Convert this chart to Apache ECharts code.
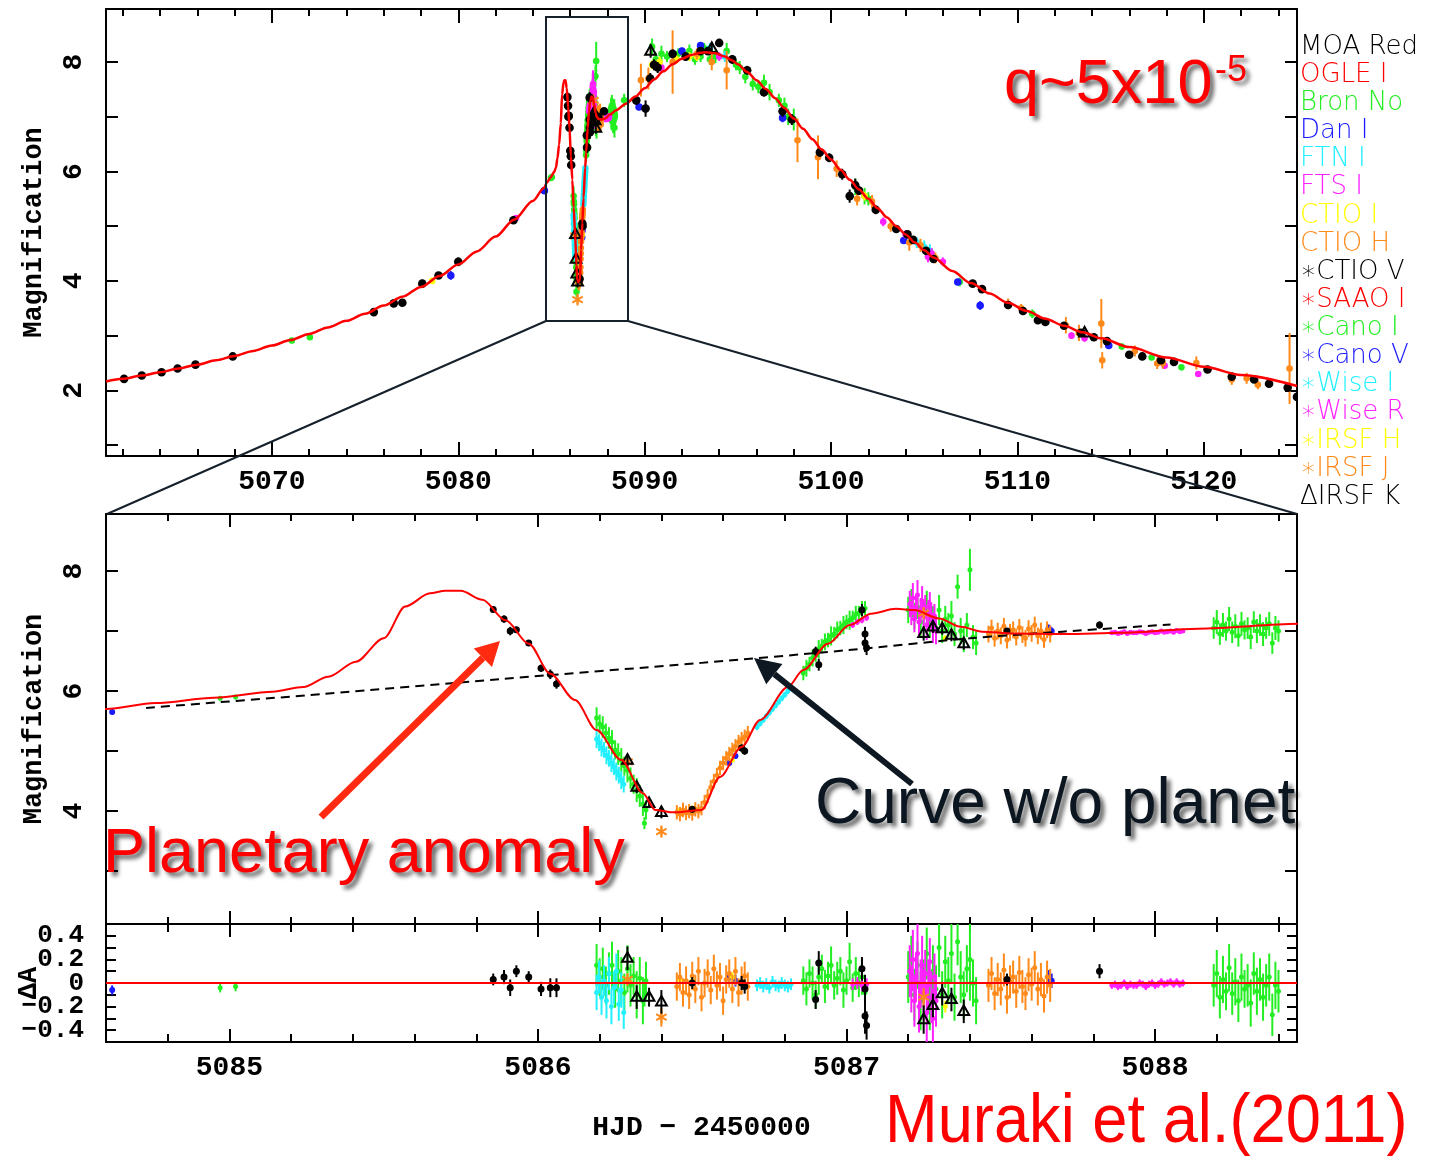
<!DOCTYPE html>
<html><head><meta charset="utf-8">
<script src="https://cdn.jsdelivr.net/npm/echarts@6/dist/echarts.min.js"></script>
<style>html,body{margin:0;padding:0;background:#fff}#c{width:1437px;height:1156px}</style>
</head><body><div id="c"></div><script>
// ---------- tick values ----------
const topXMajor = [5070,5080,5090,5100,5110,5120];
const topXMinor = [5062,5064,5066,5068,5072,5074,5076,5078,5082,5084,5086,5088,5092,5094,5096,5098,5102,5104,5106,5108,5112,5114,5116,5118,5122,5124];
const topYTicks = [1,2,3,4,5,6,7,8];
const topYLabels = [2,4,6,8];
const zoomXMajor = [5085,5086,5087,5088];
const zoomXMinor = [5084.8,5085.2,5085.4,5085.6,5085.8,5086.2,5086.4,5086.6,5086.8,5087.2,5087.4,5087.6,5087.8,5088.2,5088.4];
const zoomYTicks = [3,4,5,6,7,8];
const zoomYLabels = [4,6,8];
const resYTicks = [-0.4,-0.3,-0.2,-0.1,0,0.1,0.2,0.3,0.4];
const resYLabelsA = [-0.4,0,0.4];
const resYLabelsB = [-0.2,0.2];

// ---------- legend ----------
const legendLabels = ['MOA Red','OGLE I','Bron No','Dan I','FTN I','FTS I','CTIO I','CTIO H','∗CTIO V','∗SAAO I','∗Cano I','∗Cano V','∗Wise I','∗Wise R','∗IRSF H','∗IRSF J','ΔIRSF K'];
const legendColors = ['#000000','#ff0000','#22ee22','#1a1aff','#22f0ff','#ff22ff','#ffff00','#ff8a1a','#000000','#ff0000','#22ee22','#1a1aff','#22f0ff','#ff22ff','#ffff00','#ff8a1a','#000000'];

// ---------- model curves: [HJD-2450000, magnification] ----------
const modelCurve = [
 [5061.1,2.16],[5062,2.21],[5063,2.27],[5064,2.33],[5065,2.40],[5066,2.47],[5067,2.55],[5068,2.63],[5069,2.72],[5070,2.82],
 [5071,2.92],[5072,3.03],[5073,3.15],[5074,3.27],[5075,3.40],[5076,3.55],[5077,3.71],[5078,3.89],[5079,4.09],[5080,4.30],
 [5081,4.54],[5082,4.81],[5083,5.12],[5084,5.46],[5084.6,5.70],[5084.76,5.80],[5084.95,5.89],[5085.14,5.99],[5085.24,6.07],
 [5085.32,6.24],[5085.41,6.49],[5085.50,6.88],[5085.57,7.41],[5085.65,7.63],[5085.70,7.67],[5085.75,7.67],[5085.82,7.52],[5085.895,7.18],[5085.97,6.79],
 [5086.04,6.29],[5086.12,5.85],[5086.19,5.35],[5086.27,4.85],[5086.34,4.30],[5086.38,4.02],[5086.44,3.98],[5086.53,4.02],[5086.59,4.57],[5086.66,5.07],
 [5086.72,5.52],[5086.81,6.07],[5086.86,6.35],[5086.94,6.79],[5087.01,7.10],[5087.08,7.29],[5087.16,7.37],[5087.22,7.35],[5087.30,7.21],[5087.37,7.07],
 [5087.44,6.99],[5087.54,6.96],[5087.71,6.95],[5087.89,6.97],[5088.14,7.04],[5088.47,7.12],[5089,7.24],[5089.5,7.37],[5090,7.52],[5090.5,7.68],
 [5091,7.83],[5091.5,7.96],[5092,8.06],[5092.5,8.13],[5093,8.17],[5093.3,8.18],[5093.8,8.16],[5094.3,8.10],[5094.7,8.03],[5095,7.96],
 [5095.5,7.82],[5096,7.67],[5096.5,7.51],[5097,7.34],[5097.5,7.16],[5098,6.97],[5098.5,6.78],[5099,6.59],[5099.5,6.40],[5100,6.22],
 [5100.5,6.03],[5101,5.85],[5101.5,5.67],[5102,5.50],[5102.5,5.33],[5103,5.16],[5103.5,5.00],[5104,4.85],[5104.5,4.70],[5105,4.56],
 [5105.5,4.43],[5106.5,4.18],[5107.5,3.96],[5108.5,3.77],[5109.5,3.60],[5110.5,3.45],[5111.5,3.31],[5112.5,3.18],[5113.5,3.06],[5114.5,2.95],
 [5116,2.79],[5118,2.60],[5120,2.43],[5122,2.28],[5125,2.08]
];
const noPlanetCurve = [[5084.73,5.72],[5085.3,5.95],[5085.88,6.20],[5086.53,6.47],[5087.0,6.68],[5087.4,6.88],[5087.7,6.99],[5088.05,7.11]];

// ---------- observations: [HJD-2450000, magnification, error, residual] ----------
const moaRed = [
 [5062.07,2.21,0.05,0],[5063.02,2.27,0.05,0],[5064.08,2.33,0.05,0],[5064.94,2.40,0.05,0],[5065.90,2.47,0.04,0],[5067.90,2.62,0.04,0],
 [5075.47,3.43,0.06,0],[5076.54,3.59,0.05,0],[5077.00,3.60,0.05,0],[5078.07,3.95,0.07,0],[5078.94,4.10,0.06,0],[5080.00,4.35,0.08,0],[5082.96,5.11,0.07,0],
 [5085.855,7.36,0.05,0.03],[5085.89,7.20,0.06,0.05],[5085.91,7.00,0.07,-0.04],[5085.93,7.02,0.05,0.10],[5085.97,6.80,0.05,0.05],[5086.01,6.38,0.06,-0.05],[5086.04,6.28,0.08,-0.04],[5086.06,6.12,0.08,-0.04],
 [5086.50,4.03,0.05,0.00],[5086.66,5.05,0.06,0.00],[5086.67,5.00,0.06,-0.03],
 [5086.90,6.66,0.08,-0.14],[5086.91,6.44,0.10,0.17],[5087.05,7.35,0.10,0.12],[5087.06,6.95,0.12,-0.05],[5087.06,6.80,0.15,-0.28],[5087.065,6.72,0.12,-0.36],
 [5087.52,7.00,0.05,0.03],[5087.82,7.10,0.06,0.10],
 [5089.55,7.30,0.08,0],[5090.05,7.15,0.15,0],[5090.30,7.70,0.10,0],[5090.50,7.95,0.10,0],[5090.70,7.90,0.10,0],[5091.50,8.15,0.08,0],[5092.20,8.10,0.08,0],[5093.00,8.20,0.06,0],
 [5093.40,8.20,0.06,0],[5094.00,8.35,0.06,0],[5094.70,8.05,0.08,0],[5095.50,7.85,0.08,0],[5096.40,7.45,0.08,0],[5097.40,7.10,0.10,0],[5097.90,6.95,0.10,0],[5099.40,6.35,0.08,0],
 [5099.90,6.25,0.08,0],[5100.60,5.95,0.10,0],[5101.00,5.55,0.12,0],[5101.30,5.75,0.12,0],[5101.50,5.65,0.08,0],[5102.40,5.30,0.08,0],[5103.50,4.95,0.06,0],[5104.10,4.85,0.06,0],
 [5104.40,4.75,0.06,0],[5105.10,4.55,0.06,0],[5105.50,4.40,0.06,0],[5107.60,3.95,0.06,0],[5108.10,3.85,0.05,0],[5109.50,3.56,0.06,0],[5110.30,3.45,0.05,0],[5111.10,3.28,0.06,0],
 [5111.50,3.25,0.05,0],[5112.50,3.18,0.05,0],[5113.40,3.05,0.05,0],[5114.10,2.97,0.05,0],[5114.80,2.90,0.05,0],[5116.00,2.65,0.06,0],[5116.70,2.62,0.05,0],[5117.70,2.55,0.05,0],
 [5118.40,2.52,0.05,0],[5120.20,2.38,0.05,0],[5121.50,2.25,0.05,0],[5122.70,2.20,0.05,0],[5123.50,2.12,0.05,0],[5124.50,2.05,0.06,0],[5125.00,1.88,0.08,0]
];
const irsfK = [
 [5086.29,4.85,0.10,0.21],[5086.32,4.40,0.10,-0.12],[5086.36,4.13,0.08,-0.12],[5086.40,3.98,0.10,-0.16],
 [5087.25,6.96,0.12,-0.31],[5087.28,7.07,0.10,-0.19],[5087.31,7.04,0.10,-0.09],[5087.34,6.93,0.10,-0.14],[5087.38,6.79,0.10,-0.24],
 [5090.32,8.20,0.12,0],[5093.60,8.25,0.08,0],[5113.60,3.05,0.06,0]
];
const danI = [
 [5079.60,4.10,0.08,0],[5084.62,5.65,0.04,-0.06],[5086.62,4.80,0.05,0.05],[5086.64,4.92,0.05,0.02],[5087.655,7.05,0.06,0.05],[5087.665,7.00,0.06,0.02],
 [5089.70,7.18,0.06,0],[5092.00,8.20,0.06,0],[5093.00,8.30,0.06,0],[5097.40,6.98,0.08,0],[5103.90,4.74,0.06,0],[5106.80,3.98,0.06,0],[5108.00,3.55,0.08,0],[5114.90,2.82,0.05,0]
];
const ftnI = [
 [5086.190,5.20,0.15,-0.08],[5086.198,5.14,0.14,0.05],[5086.206,5.06,0.15,-0.12],[5086.214,5.02,0.13,0.02],[5086.222,4.93,0.15,-0.15],[5086.230,4.88,0.14,0.08],
 [5086.238,4.80,0.15,-0.20],[5086.246,4.74,0.14,-0.04],[5086.254,4.66,0.15,0.10],[5086.262,4.60,0.14,-0.18],[5086.270,4.52,0.15,-0.06],[5086.278,4.45,0.14,-0.25],
 [5086.71,5.40,0.05,-0.02],[5086.72,5.46,0.05,0.00],[5086.73,5.52,0.05,-0.03],[5086.74,5.58,0.05,-0.01],[5086.75,5.64,0.05,-0.04],[5086.76,5.70,0.05,0.01],
 [5086.77,5.76,0.05,-0.02],[5086.78,5.82,0.05,-0.03],[5086.79,5.88,0.05,0.00],[5086.80,5.94,0.05,-0.02],[5086.81,6.00,0.05,-0.03],[5086.82,6.06,0.05,-0.01],
 [5093.50,8.25,0.10,0],[5094.30,8.10,0.10,0],[5104.60,4.70,0.10,0],[5105.00,4.62,0.12,0],[5105.30,4.55,0.12,0]
];
const bronNo = [
 [5071.07,2.91,0.05,0],[5072.04,2.97,0.05,0],[5084.97,5.88,0.04,-0.04],[5085.02,5.90,0.04,-0.03],
 [5086.19,5.55,0.18,0.15],[5086.20,5.45,0.16,0.05],[5086.21,5.40,0.18,0.12],[5086.22,5.30,0.16,-0.02],[5086.23,5.22,0.18,0.08],[5086.24,5.15,0.20,0.15],
 [5086.25,5.02,0.16,-0.05],[5086.26,4.95,0.18,0.10],[5086.27,4.85,0.20,0.02],[5086.28,4.75,0.16,-0.08],[5086.29,4.68,0.20,0.12],[5086.30,4.55,0.18,-0.02],
 [5086.31,4.45,0.16,0.06],[5086.32,4.35,0.20,-0.10],[5086.33,4.25,0.18,0.04],[5086.34,4.12,0.20,-0.15],[5086.35,4.02,0.16,0.02],[5086.345,3.80,0.10,-0.10],
 [5086.86,6.30,0.12,0.02],[5086.87,6.38,0.14,-0.05],[5086.88,6.45,0.12,0.08],[5086.89,6.55,0.14,0.00],[5086.90,6.60,0.12,-0.10],[5086.91,6.70,0.15,0.05],
 [5086.92,6.75,0.12,0.12],[5086.93,6.82,0.14,-0.03],[5086.94,6.85,0.12,0.06],[5086.95,6.92,0.16,0.15],[5086.96,6.95,0.12,-0.02],[5086.97,7.02,0.14,0.04],
 [5086.98,7.05,0.12,0.10],[5086.99,7.10,0.15,-0.06],[5087.00,7.15,0.12,0.02],[5087.01,7.18,0.16,0.18],[5087.02,7.22,0.12,-0.04],[5087.03,7.28,0.14,0.08],
 [5087.04,7.30,0.12,0.00],[5087.05,7.35,0.15,0.05],[5087.06,7.38,0.12,-0.08],
 [5087.20,7.35,0.22,0.05],[5087.21,7.50,0.20,0.20],[5087.22,7.25,0.22,-0.10],[5087.23,7.40,0.20,0.15],[5087.24,7.15,0.25,-0.15],[5087.25,7.30,0.20,0.00],
 [5087.26,7.45,0.22,0.25],[5087.27,7.10,0.20,-0.20],[5087.28,7.20,0.22,0.10],[5087.29,7.05,0.20,-0.05],[5087.30,7.35,0.25,0.30],[5087.31,7.00,0.20,-0.10],
 [5087.32,7.20,0.22,0.18],[5087.33,7.10,0.20,0.02],[5087.34,7.25,0.25,0.25],[5087.35,6.95,0.20,-0.12],[5087.36,7.74,0.20,0.35],[5087.37,7.00,0.22,0.05],
 [5087.38,6.85,0.20,-0.10],[5087.39,7.10,0.20,0.12],[5087.40,8.02,0.35,0.20],[5087.41,6.90,0.20,0.00],[5087.42,6.80,0.20,-0.15],
 [5088.19,7.05,0.18,-0.02],[5088.20,7.15,0.20,0.08],[5088.21,6.95,0.18,-0.12],[5088.22,7.10,0.20,0.03],[5088.23,7.00,0.16,-0.07],[5088.24,7.20,0.20,0.13],
 [5088.25,6.98,0.18,-0.09],[5088.26,7.08,0.20,0.01],[5088.27,6.92,0.18,-0.15],[5088.28,7.12,0.20,0.05],[5088.29,7.02,0.16,-0.05],[5088.30,7.05,0.18,-0.02],
 [5088.31,6.90,0.20,-0.17],[5088.32,7.15,0.18,0.08],[5088.33,7.00,0.20,-0.07],[5088.34,7.10,0.18,0.03],[5088.35,6.95,0.20,-0.12],[5088.36,7.05,0.18,-0.02],
 [5088.37,7.12,0.20,0.05],[5088.38,6.80,0.18,-0.27],[5088.39,7.05,0.20,-0.02],[5088.40,7.00,0.18,-0.07],
 [5088.90,7.30,0.12,0],[5090.40,8.28,0.15,0],[5090.60,8.05,0.12,0],[5090.90,8.15,0.15,0],[5091.20,8.10,0.10,0],[5091.80,8.15,0.10,0],[5092.40,8.20,0.12,0],
 [5092.70,8.05,0.10,0],[5093.00,8.10,0.10,0],[5093.20,8.25,0.10,0],[5093.50,8.05,0.10,0],[5093.80,8.10,0.12,0],[5094.40,8.20,0.15,0],[5094.90,7.95,0.10,0],
 [5095.10,7.90,0.12,0],[5095.40,7.73,0.12,0],[5095.80,7.60,0.12,0],[5096.10,7.55,0.12,0],[5096.40,7.62,0.15,0],[5096.70,7.45,0.15,0],[5097.20,7.30,0.12,0],
 [5097.50,7.20,0.15,0],[5097.70,7.00,0.15,0],[5098.00,6.95,0.20,0],[5101.30,5.72,0.15,0],[5101.80,5.55,0.15,0],[5102.00,5.50,0.12,0],[5106.90,3.98,0.08,0],
 [5110.80,3.40,0.08,0],[5115.60,2.80,0.05,0],[5117.20,2.60,0.05,0],[5118.80,2.42,0.05,0]
];
const ftsI = [
 [5083.10,5.15,0.05,0],[5090.70,7.95,0.10,0],[5090.90,7.90,0.10,0],[5094.00,8.10,0.08,0],[5102.80,5.08,0.08,0],[5104.00,4.85,0.08,0],[5105.20,4.44,0.10,0],[5105.40,4.50,0.10,0],
 [5106.00,4.35,0.08,0],[5112.90,3.00,0.06,0],[5113.60,2.95,0.06,0],[5117.90,2.45,0.05,0],[5119.70,2.30,0.05,0],
 [5087.02,7.10,0.05,-0.01],[5087.035,7.15,0.05,0.00],[5087.05,7.18,0.05,-0.02],[5087.065,7.22,0.05,-0.01],
 [5087.205,7.45,0.22,0.10],[5087.21,7.30,0.20,-0.05],[5087.215,7.55,0.25,0.20],[5087.22,7.20,0.22,-0.15],[5087.225,7.40,0.20,0.05],[5087.23,7.60,0.25,0.25],
 [5087.235,7.15,0.22,-0.20],[5087.24,7.35,0.20,0.00],[5087.245,7.50,0.25,0.15],[5087.25,7.25,0.22,-0.10],[5087.255,7.40,0.20,0.08],[5087.26,7.10,0.25,-0.25],
 [5087.265,7.30,0.22,-0.02],[5087.27,7.45,0.20,0.18],[5087.275,7.20,0.22,-0.12],[5087.28,7.05,0.25,-0.30],[5087.285,7.25,0.20,0.05],[5087.29,7.00,0.22,-0.15],
 [5087.86,6.97,0.03,-0.02],[5087.87,6.98,0.03,-0.01],[5087.88,6.96,0.03,-0.03],[5087.89,6.97,0.03,-0.02],[5087.90,6.99,0.03,0.00],[5087.91,6.96,0.03,-0.03],
 [5087.92,6.98,0.03,-0.01],[5087.93,6.97,0.03,-0.02],[5087.94,6.97,0.03,-0.02],[5087.95,6.99,0.03,0.00],[5087.96,6.98,0.03,-0.01],[5087.97,6.96,0.03,-0.03],
 [5087.98,6.98,0.03,-0.01],[5087.99,6.99,0.03,0.00],[5088.00,6.97,0.03,-0.02],[5088.01,6.98,0.03,-0.01],[5088.02,7.00,0.03,0.01],[5088.03,6.98,0.03,-0.01],
 [5088.04,6.99,0.03,0.00],[5088.05,7.00,0.03,0.01],[5088.06,6.98,0.03,-0.01],[5088.07,7.01,0.03,0.01],[5088.08,6.99,0.03,-0.01],[5088.09,7.00,0.03,0.00]
];
const ctioI = [
 [5078.60,4.00,0.05,0],[5086.46,4.02,0.04,0.03],[5086.50,4.05,0.04,0.02],[5086.63,4.85,0.04,0.05],[5087.32,6.88,0.05,-0.20],
 [5090.40,7.95,0.08,0],[5090.80,8.00,0.10,0],[5091.70,8.05,0.08,0],[5092.40,8.10,0.08,0],[5092.80,8.10,0.08,0],[5101.80,5.55,0.08,0],[5113.30,3.05,0.05,0]
];
const ctioH = [
 [5076.50,3.58,0.06,0],
 [5086.45,3.98,0.12,-0.03],[5086.46,3.95,0.12,0.05],[5086.47,4.02,0.12,-0.08],[5086.48,3.97,0.12,0.02],[5086.49,4.00,0.12,-0.10],[5086.50,3.96,0.12,0.06],
 [5086.51,4.03,0.12,-0.05],[5086.52,4.00,0.12,0.10],[5086.53,4.05,0.12,-0.12],[5086.54,4.15,0.12,0.00],[5086.55,4.25,0.12,0.08],[5086.56,4.40,0.12,-0.06],
 [5086.57,4.50,0.12,0.12],[5086.58,4.60,0.12,-0.02],[5086.59,4.72,0.12,0.05],[5086.60,4.80,0.12,-0.15],[5086.61,4.88,0.12,0.03],[5086.62,4.95,0.12,0.08],
 [5086.63,5.02,0.12,-0.05],[5086.64,5.08,0.12,0.10],[5086.65,5.15,0.12,-0.08],[5086.66,5.20,0.12,0.02],[5086.67,5.24,0.12,0.06],[5086.68,5.30,0.12,-0.03],
 [5087.46,6.95,0.14,-0.02],[5087.47,7.05,0.14,0.08],[5087.48,6.88,0.14,-0.09],[5087.49,7.00,0.14,0.03],[5087.50,6.92,0.14,-0.05],[5087.51,7.08,0.14,0.11],
 [5087.52,6.85,0.14,-0.12],[5087.53,6.98,0.14,0.01],[5087.54,7.02,0.14,0.05],[5087.55,6.90,0.14,-0.07],[5087.56,7.06,0.14,0.09],[5087.57,6.94,0.14,-0.03],
 [5087.58,6.88,0.14,-0.09],[5087.59,7.04,0.14,0.07],[5087.60,6.96,0.14,-0.01],[5087.61,7.10,0.14,0.13],[5087.62,6.92,0.14,-0.05],[5087.63,7.00,0.14,0.03],
 [5087.64,6.86,0.14,-0.11],[5087.65,7.02,0.14,0.05],[5087.66,6.95,0.14,-0.02],
 [5089.80,7.67,0.30,0],[5090.20,7.70,0.20,0],[5091.50,8.00,0.58,0],[5092.80,8.15,0.10,0],[5093.60,8.00,0.15,0],[5094.40,7.85,0.35,0],[5098.20,6.57,0.40,0],
 [5099.30,6.26,0.40,0],[5100.30,6.05,0.15,0],[5101.40,5.50,0.12,0],[5102.20,5.45,0.12,0],[5103.20,5.00,0.10,0],[5104.20,4.70,0.15,0],[5104.80,4.65,0.12,0],
 [5105.60,4.42,0.10,0],[5109.50,3.58,0.10,0],[5110.20,3.50,0.08,0],[5112.60,3.19,0.15,0],[5113.30,3.05,0.15,0],[5114.50,3.22,0.45,0],[5114.55,2.55,0.15,0],
 [5116.30,2.72,0.10,0],[5117.50,2.49,0.10,0],[5117.80,2.50,0.10,0],[5119.60,2.50,0.12,0],[5121.50,2.20,0.10,0],[5122.30,2.22,0.10,0],[5122.90,2.10,0.08,0],
 [5124.60,2.40,0.65,0]
];
const irsfJ = [[5086.29,4.82,0.05,0.03],[5086.40,3.66,0.08,-0.29],[5087.25,7.30,0.08,-0.12]];

// ---------- layout / styling ----------
const MONO = '"Liberation Mono", "DejaVu Sans Mono", monospace';
const SANS = '"Liberation Sans", Arial, sans-serif';
const G = '#22ee22', B = '#1a1aff', CY = '#22f0ff', M = '#ff22ff', Y = '#ffff00', O = '#ff8a1a', K = '#000000';
const TOPX = [5061.1, 5125.0], TOPY = [0.8, 8.97];
const ZX = [5084.6, 5088.46], ZY = [2.12, 8.95], RY = [-0.5, 0.5];

function fmtX(v){ return String(Math.round(v)); }
function fmtR(v){ if (Math.abs(v) < 1e-9) return '0'; return (v < 0 ? '−' : '') + Math.abs(v).toFixed(1); }

function xAxisSet(gi, rng, major, minor, majLen, minLen, labels, name) {
  const base = {type:'value', gridIndex:gi, min:rng[0], max:rng[1], splitLine:{show:false}, axisPointer:{show:false}};
  const line = {show:true, onZero:false, lineStyle:{color:'#000', width:2}};
  const tick = (vals, len) => ({show:true, inside:true, length:len, lineStyle:{color:'#000', width:2}, customValues:vals});
  const lab = labels ? {show:true, customValues:major, margin:12, color:'#000', fontFamily:MONO, fontWeight:'bold', fontSize:28, formatter:fmtX, hideOverlap:false} : {show:false};
  const a = Object.assign({}, base, {position:'bottom', axisLine:line, axisTick:tick(major, majLen), axisLabel:lab});
  if (name) Object.assign(a, {name:name, nameLocation:'middle', nameGap:72, nameMoveOverlap:false, nameTextStyle:{color:'#000', fontFamily:MONO, fontWeight:'bold', fontSize:28}});
  return [
    a,
    Object.assign({}, base, {position:'bottom', axisLine:{show:false, onZero:false}, axisTick:tick(minor, minLen), axisLabel:{show:false}}),
    Object.assign({}, base, {position:'top', axisLine:line, axisTick:tick(major, majLen), axisLabel:{show:false}}),
    Object.assign({}, base, {position:'top', axisLine:{show:false, onZero:false}, axisTick:tick(minor, minLen), axisLabel:{show:false}})
  ];
}
function yLabelStyle(labels, rotated, fmt, fs) {
  return {show:true, customValues:labels, color:'#000', fontFamily:MONO, fontWeight:'bold', fontSize:fs || 28, hideOverlap:false,
          showMinLabel:true, showMaxLabel:true, margin: rotated ? 18 : 22, rotate: rotated ? 90 : 0, formatter: fmt || (v => String(v))};
}
function yAxisSet(gi, rng, ticks, labels, len, rotated, name, nameGap, fmt, fs) {
  const base = {type:'value', gridIndex:gi, min:rng[0], max:rng[1], splitLine:{show:false}, axisPointer:{show:false}};
  const line = {show:true, onZero:false, lineStyle:{color:'#000', width:2}};
  const tick = {show:true, inside:true, length:len, lineStyle:{color:'#000', width:2}, customValues:ticks};
  const left = Object.assign({}, base, {position:'left', axisLine:line, axisTick:tick, axisLabel:yLabelStyle(labels, rotated, fmt, fs),
    name:name, nameLocation:'middle', nameRotate:90, nameGap:nameGap, nameMoveOverlap:false,
    nameTextStyle:{color:'#000', fontFamily:MONO, fontWeight:'bold', fontSize:27}});
  const right = Object.assign({}, base, {position:'right', axisLine:line, axisTick:tick, axisLabel:{show:false}});
  return [left, right];
}

const xAxes = [].concat(
  xAxisSet(0, TOPX, topXMajor, topXMinor, 14, 7, true),
  xAxisSet(1, ZX, zoomXMajor, zoomXMinor, 13, 7, false),
  xAxisSet(2, ZX, zoomXMajor, zoomXMinor, 13, 8, true, 'HJD − 2450000')
);
const yAxes = [].concat(
  yAxisSet(0, TOPY, topYTicks, topYLabels, 12, true, 'Magnification', 58),
  yAxisSet(1, ZY, zoomYTicks, zoomYLabels, 12, true, 'Magnification', 58),
  yAxisSet(2, RY, resYTicks, resYLabelsA, 10, false, 'ΔA', 63, fmtR, 26),
  [{type:'value', gridIndex:2, min:RY[0], max:RY[1], position:'left', splitLine:{show:false}, axisPointer:{show:false},
    axisLine:{show:false, onZero:false}, axisTick:{show:false}, axisLabel:yLabelStyle(resYLabelsB, false, fmtR, 26)}]
);

function renderer(color, shape, r) {
  return function (params, api) {
    const t = api.value(0), v = api.value(1), e = api.value(2);
    const c = api.coord([t, v]), lo = api.coord([t, v - e]), hi = api.coord([t, v + e]);
    const ch = [{type:'line', shape:{x1:c[0], y1:lo[1], x2:c[0], y2:hi[1]}, style:{stroke:color, lineWidth:2}}];
    if (shape === 'circle') {
      ch.push({type:'circle', shape:{cx:c[0], cy:c[1], r:r}, style:{fill:color}});
    } else if (shape === 'triangle') {
      ch.push({type:'polygon', shape:{points:[[c[0], c[1]-r], [c[0]-r*0.9, c[1]+r*0.6], [c[0]+r*0.9, c[1]+r*0.6]]}, style:{fill:'none', stroke:color, lineWidth:2}});
    } else {
      for (let k = 0; k < 3; k++) {
        const a = Math.PI / 2 + k * Math.PI / 3, dx = Math.cos(a) * r, dy = Math.sin(a) * r;
        ch.push({type:'line', shape:{x1:c[0]-dx, y1:c[1]-dy, x2:c[0]+dx, y2:c[1]+dy}, style:{stroke:color, lineWidth:2}});
      }
    }
    return {type:'group', children:ch};
  };
}

const datasets = [
  {rows:bronNo, color:G, shape:'circle', r:2.5},
  {rows:danI, color:B, shape:'circle', r:3},
  {rows:ftnI, color:CY, shape:'circle', r:2.5},
  {rows:ftsI, color:M, shape:'circle', r:2.5},
  {rows:ctioI, color:Y, shape:'circle', r:2.5},
  {rows:ctioH, color:O, shape:'circle', r:2.5},
  {rows:irsfJ, color:O, shape:'star', r:6},
  {rows:moaRed, color:K, shape:'circle', r:3.5},
  {rows:irsfK, color:K, shape:'triangle', r:6}
];

const series = [];
const inZoom = r => r[0] >= ZX[0] && r[0] <= ZX[1];
datasets.forEach(ds => {
  const mk = (xi, yi, data, rr) => ({type:'custom', xAxisIndex:xi, yAxisIndex:yi, data:data, clip:true,
    encode:{x:0, y:1}, renderItem:renderer(ds.color, ds.shape, rr), z:3, silent:true});
  series.push(mk(0, 0, ds.rows.map(r => [r[0], r[1], r[2]]), ds.shape === 'circle' ? ds.r + 0.8 : ds.r));
  series.push(mk(4, 2, ds.rows.filter(inZoom).map(r => [r[0], r[1], r[2]]), ds.r));
  series.push(mk(8, 4, ds.rows.filter(inZoom).map(r => [r[0], r[3], r[2]]), ds.r));
});
series.push({type:'line', xAxisIndex:0, yAxisIndex:0, data:modelCurve, symbol:'none', smooth:0.3, smoothMonotone:'x', clip:true,
  lineStyle:{color:'#ff0000', width:2.5}, z:6, silent:true});
series.push({type:'line', xAxisIndex:4, yAxisIndex:2, data:modelCurve, symbol:'none', smooth:0.3, smoothMonotone:'x', clip:true,
  lineStyle:{color:'#ff0000', width:2}, z:6, silent:true});
series.push({type:'line', xAxisIndex:4, yAxisIndex:2, data:noPlanetCurve, symbol:'none', smooth:0.3, clip:true,
  lineStyle:{color:'#000', width:2, type:[9,6]}, z:5, silent:true});
series.push({type:'line', xAxisIndex:8, yAxisIndex:4, data:[], symbol:'none', z:6, silent:true,
  markLine:{symbol:['none','none'], silent:true, label:{show:false}, animation:false,
    lineStyle:{color:'#ff0000', width:2, type:'solid'}, data:[{yAxis:0}]}});

// ---------- annotations ----------
function arrow(x1, y1, x2, y2, color, w, hl, hw) {
  const dx = x2 - x1, dy = y2 - y1, L = Math.hypot(dx, dy), ux = dx / L, uy = dy / L;
  const bx = x2 - ux * hl, by = y2 - uy * hl, px = -uy, py = ux;
  return [
    {type:'line', shape:{x1:x1, y1:y1, x2:bx, y2:by}, style:{stroke:color, lineWidth:w}, z:120},
    {type:'polygon', shape:{points:[[x2, y2], [bx + px*hw, by + py*hw], [bx - px*hw, by - py*hw]]}, style:{fill:color}, z:120}
  ];
}
const shadow = {textShadowColor:'rgba(0,0,0,0.6)', textShadowBlur:4, textShadowOffsetX:4, textShadowOffsetY:4};
const graphics = [
  {type:'rect', shape:{x:546, y:17, width:82, height:304}, style:{fill:'none', stroke:'#15202b', lineWidth:2}, z:110},
  {type:'line', shape:{x1:546, y1:321, x2:107, y2:514}, style:{stroke:'#15202b', lineWidth:2}, z:110},
  {type:'line', shape:{x1:628, y1:321, x2:1297, y2:514}, style:{stroke:'#15202b', lineWidth:2}, z:110},
  ...arrow(321, 817, 500, 641, '#ff2a10', 7, 24, 13),
  ...arrow(912, 784, 754, 658, '#0d1822', 6, 26, 13),
  {type:'text', x:1004, y:86, z:130, style:Object.assign({text:'q~5x10', fontFamily:SANS, fontSize:63, fill:'#ff0000', align:'left', verticalAlign:'middle'}, shadow)},
  {type:'text', x:1215, y:71, z:130, style:Object.assign({text:'-5', fontFamily:SANS, fontSize:36, fill:'#ff0000', align:'left', verticalAlign:'middle'}, shadow)},
  {type:'text', x:103, y:855, z:130, style:Object.assign({text:'Planetary anomaly', fontFamily:SANS, fontSize:63, fill:'#ff0000', align:'left', verticalAlign:'middle'}, shadow)},
  {type:'text', x:815, y:805, z:130, style:Object.assign({text:'Curve w/o planet', fontFamily:SANS, fontSize:64, fill:'#0b1620', align:'left', verticalAlign:'middle'}, shadow)},
  {type:'text', x:885, y:1123, z:130, scaleX:0.93, style:{text:'Muraki et al.(2011)', fontFamily:SANS, fontSize:68, fill:'#ff0000', align:'left', verticalAlign:'middle'}}
];
legendLabels.forEach((s, i) => {
  graphics.push({type:'text', x:1300, y:47 + i * 28.125, z:130,
    style:{text:s, fontFamily:'"DejaVu Sans", sans-serif', fontWeight:'lighter', fontSize:26, fill:legendColors[i], align:'left', verticalAlign:'middle'}});
});

const chart = echarts.init(document.getElementById('c'), null, {renderer:'canvas'});
chart.setOption({
  animation:false,
  backgroundColor:'#ffffff',
  grid:[
    {left:106, top:9, width:1191, height:447, containLabel:false, outerBoundsMode:'none'},
    {left:106, top:514, width:1191, height:410, containLabel:false, outerBoundsMode:'none'},
    {left:106, top:924, width:1191, height:118, containLabel:false, outerBoundsMode:'none'}
  ],
  xAxis:xAxes,
  yAxis:yAxes,
  series:series,
  graphic:graphics
});
</script></body></html>
